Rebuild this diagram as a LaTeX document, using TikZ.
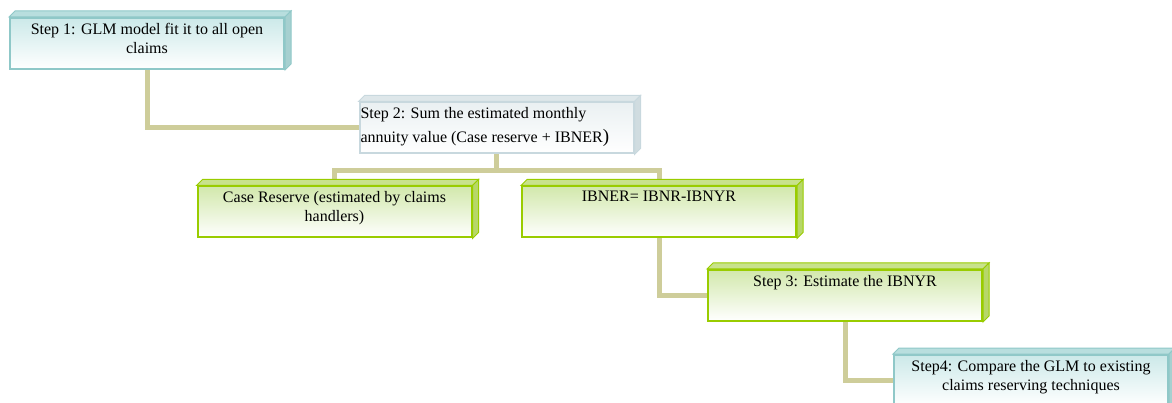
\documentclass[tikz,border=0pt]{standalone}
\usepackage{fontspec}
\setmainfont{Liberation Serif}
\usetikzlibrary{backgrounds}
\definecolor{tealline}{RGB}{143,200,200}
\definecolor{tealfill}{RGB}{204,233,233}
\definecolor{tealtop}{RGB}{184,222,222}
\definecolor{tealside}{RGB}{166,208,208}
\definecolor{grayline}{RGB}{200,216,222}
\definecolor{grayfill}{RGB}{234,240,242}
\definecolor{graytop}{RGB}{222,231,234}
\definecolor{grayside}{RGB}{208,220,224}
\definecolor{greenline}{RGB}{153,204,0}
\definecolor{greenfill}{RGB}{210,232,172}
\definecolor{greentop}{RGB}{200,226,140}
\definecolor{greenside}{RGB}{183,215,105}
\definecolor{linkc}{RGB}{206,205,154}
\tikzset{
  stepbox/.style={rectangle, draw=#1line, line width=2pt, top color=#1fill,
    bottom color=white, inner sep=5pt, font=\fontsize{16}{19}\selectfont},
  topface/.style={draw=#1line, fill=#1top, line width=1pt},
  sideface/.style={draw=#1line, fill=#1side, line width=1pt},
  link/.style={draw=linkc, line width=5pt}
}
\newcommand{\boxtext}[2][\centering]{\parbox[c][41pt][t]{264pt}{#1#2}}
\begin{document}
\begin{tikzpicture}[x=1pt,y=-1pt]
\useasboundingbox (0,0) rectangle (1172,403);
\node[stepbox=teal] (1) at (147,43.5) {\boxtext{Step 1: GLM model fit it to all open\\claims}};
\node[stepbox=gray] (2) at (496.5,128) {\boxtext[\raggedright\leftskip=-4pt\baselineskip=24pt]{Step 2: Sum the estimated monthly\\annuity value (Case reserve + IBNER{\fontsize{19}{19}\selectfont)}}};
\node[stepbox=green] (3) at (334.5,212) {\boxtext{Case Reserve (estimated by claims\\handlers)}};
\node[stepbox=green] (4) at (659,212) {\boxtext{IBNER= IBNR-IBNYR}};
\node[stepbox=green] (5) at (845,295.5) {\boxtext{Step 3: Estimate the IBNYR}};
\node[stepbox=teal] (6) at (1031,380.5) {\boxtext{Step4: Compare the GLM to existing\\claims reserving techniques}};
% 3d faces
\foreach \n/\clr in {1/teal,2/gray,3/green,4/green,5/green,6/teal}{
  \filldraw[topface=\clr] (\n.north west) -- ++(6,-6) -- ([shift={(6,-6)}]\n.north east) -- (\n.north east) -- cycle;
  \filldraw[sideface=\clr] (\n.north east) -- ++(6,-6) -- ([shift={(6,-6)}]\n.south east) -- (\n.south east) -- cycle;
}
\begin{scope}[on background layer]
\path[link] (1.south) |- (2.west);
\path[link] (2.south) -- ++(0,16) -| (3.north);
\path[link] (2.south) -- ++(0,16) -| (4.north);
\path[link] (4.south) |- (5.west);
\path[link] (5.south) |- (6.west);
\end{scope}
\end{tikzpicture}
\end{document}
